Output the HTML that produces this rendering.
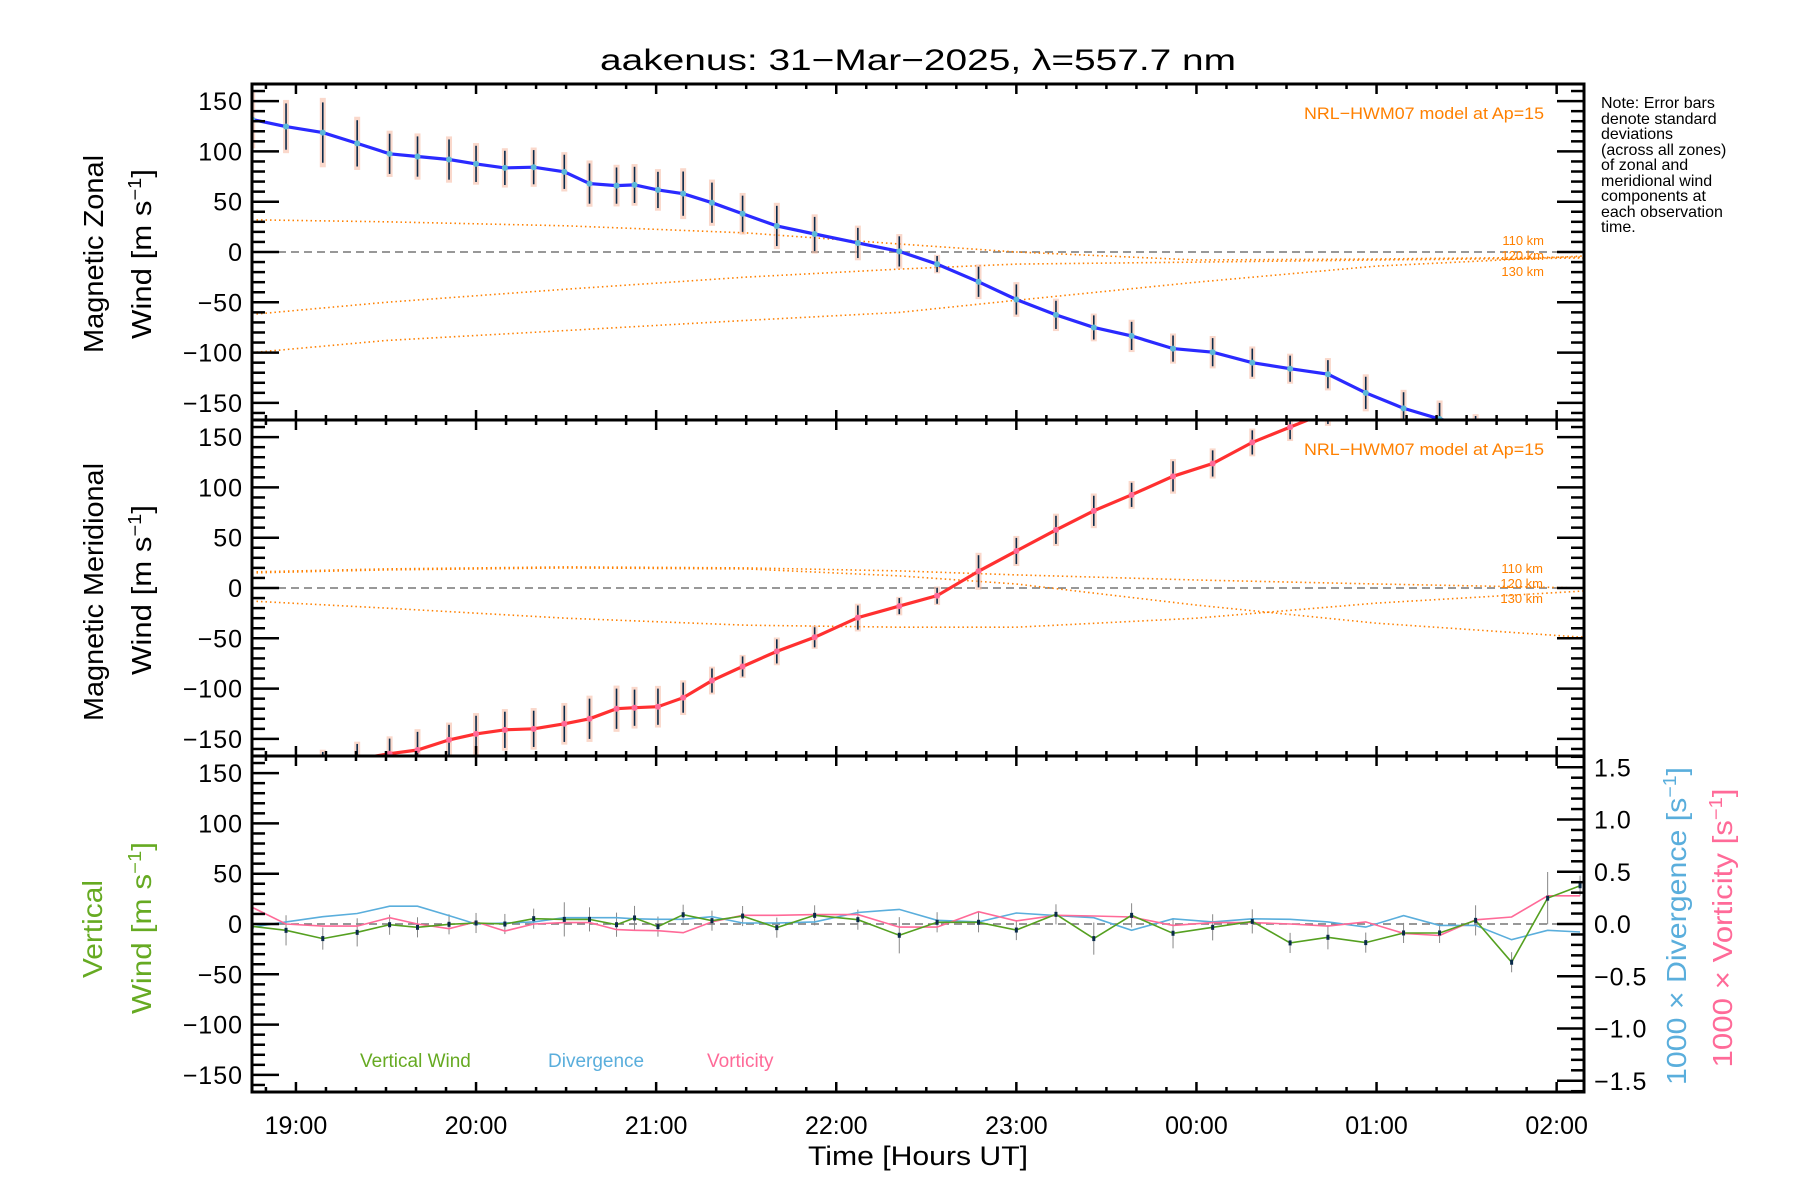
<!DOCTYPE html>
<html><head><meta charset="utf-8"><style>
html,body{margin:0;padding:0;background:#fff;}
svg{display:block;font-family:"Liberation Sans",sans-serif;}
</style></head><body>
<svg id="chart" width="1800" height="1200" viewBox="0 0 1800 1200" xmlns="http://www.w3.org/2000/svg">
<defs>
<clipPath id="c0"><rect x="252" y="84" width="1332" height="336"/></clipPath>
<clipPath id="c1"><rect x="252" y="420" width="1332" height="336"/></clipPath>
<clipPath id="c2"><rect x="252" y="756" width="1332" height="336"/></clipPath>
</defs>
<text x="918" y="70" font-size="30" text-anchor="middle" textLength="636" lengthAdjust="spacingAndGlyphs">aakenus: 31−Mar−2025, λ=557.7 nm</text>
<g id="g0"></g>
<g id="g1"></g>
<g id="g2"></g>
<g id="axes"></g>
<text transform="translate(103,254) rotate(-90)" font-size="28" text-anchor="middle" textLength="198" lengthAdjust="spacingAndGlyphs">Magnetic Zonal</text>
<text transform="translate(151,254) rotate(-90)" font-size="28" text-anchor="middle" textLength="170" lengthAdjust="spacingAndGlyphs">Wind [m s<tspan font-size="18" dy="-10">−1</tspan><tspan dy="10">]</tspan></text>
<text transform="translate(103,592) rotate(-90)" font-size="28" text-anchor="middle" textLength="258" lengthAdjust="spacingAndGlyphs">Magnetic Meridional</text>
<text transform="translate(151,590) rotate(-90)" font-size="28" text-anchor="middle" textLength="170" lengthAdjust="spacingAndGlyphs">Wind [m s<tspan font-size="18" dy="-10">−1</tspan><tspan dy="10">]</tspan></text>
<text transform="translate(102,929) rotate(-90)" font-size="28" fill="#66aa22" text-anchor="middle" textLength="98" lengthAdjust="spacingAndGlyphs">Vertical</text>
<text transform="translate(151,928) rotate(-90)" font-size="28" fill="#66aa22" text-anchor="middle" textLength="172" lengthAdjust="spacingAndGlyphs">Wind [m s<tspan font-size="18" dy="-10">−1</tspan><tspan dy="10">]</tspan></text>
<text transform="translate(1686,926) rotate(-90)" font-size="28" fill="#5aaedc" text-anchor="middle" textLength="318" lengthAdjust="spacingAndGlyphs">1000 × Divergence [s<tspan font-size="18" dy="-10">−1</tspan><tspan dy="10">]</tspan></text>
<text transform="translate(1732,928) rotate(-90)" font-size="28" fill="#ff6a98" text-anchor="middle" textLength="279" lengthAdjust="spacingAndGlyphs">1000 × Vorticity [s<tspan font-size="18" dy="-10">−1</tspan><tspan dy="10">]</tspan></text>
<text x="918" y="1165" font-size="27" text-anchor="middle" textLength="220" lengthAdjust="spacingAndGlyphs">Time [Hours UT]</text>
<g font-size="16">
<text x="1601" y="108">Note: Error bars</text>
<text x="1601" y="124">denote standard</text>
<text x="1601" y="139">deviations</text>
<text x="1601" y="155">(across all zones)</text>
<text x="1601" y="170">of zonal and</text>
<text x="1601" y="186">meridional wind</text>
<text x="1601" y="201">components at</text>
<text x="1601" y="217">each observation</text>
<text x="1601" y="232">time.</text>
</g>
<text x="1544" y="119" font-size="17" fill="#ff8000" text-anchor="end" textLength="240" lengthAdjust="spacingAndGlyphs">NRL−HWM07 model at Ap=15</text>
<text x="1544" y="455" font-size="17" fill="#ff8000" text-anchor="end" textLength="240" lengthAdjust="spacingAndGlyphs">NRL−HWM07 model at Ap=15</text>
<g font-size="13" fill="#ff8000" text-anchor="end">
<text x="1544" y="245">110 km</text><text x="1544" y="260">120 km</text><text x="1544" y="276">130 km</text></g>
<g font-size="13" fill="#ff8000" text-anchor="end">
<text x="1543" y="573">110 km</text><text x="1543" y="588">120 km</text><text x="1543" y="603">130 km</text></g>
<g font-size="19">
<text x="360" y="1067" fill="#66aa22">Vertical Wind</text>
<text x="548" y="1067" fill="#5aaedc">Divergence</text>
<text x="707" y="1067" fill="#ff6a98">Vorticity</text>
</g>
</svg>
<script>
const times=[18.757,18.945,19.149,19.34,19.52,19.675,19.85,20.0,20.16,20.32,20.49,20.63,20.78,20.88,21.01,21.15,21.31,21.48,21.67,21.88,22.12,22.35,22.56,22.79,23.0,23.22,23.43,23.64,23.87,24.09,24.31,24.52,24.73,24.94,25.15,25.35,25.55,25.75,25.95,26.13];
const zonal=[131.7,124.7,118.7,108,97.6,94.9,91.9,87.6,83.6,84.3,79.7,68,66,66.7,61.7,58,49,38,25.9,17.9,9,0.6,-12,-29.6,-47.2,-62.5,-75,-83.4,-96,-99.6,-110,-116,-121.5,-140,-155.4,-166,-175,-185,-195,-205];
const zonalErr=[25,23,30,23,20,20,20,18,17,17,17,20,18,18,18,22,20,18,20,17,15,15,8,15,15,14,12,14,13,14,14,13,14,16,16,16,12,10,10,10];
const meridional=[-195,-188,-178,-170,-164.7,-161,-151,-145,-141,-140,-135,-130,-120,-119,-118,-109,-92,-78,-63,-49,-29.4,-18,-7.7,16.6,36.8,57.8,76.7,92.6,111,123.8,144.7,159.9,175,185,195,200,205,210,215,220];
const meridionalErr=[15,15,15,15,15,18,15,18,18,18,18,20,20,18,18,15,12,10,12,10,12,8,8,16,13,14,15,12,15,13,12,12,12,12,12,12,12,12,12,12];
const vertical=[-2.3,-6.3,-14.5,-8.3,-0.7,-3.3,-0.3,1,0,5.3,4.6,4.6,-0.7,6,-2.6,9.2,3.3,7.9,-3.6,8.6,4.3,-11.2,1.7,1.7,-6,9.6,-14.5,8.6,-9.2,-3.3,2.6,-18.8,-13.2,-18.5,-8.9,-8.9,3.6,-38,25.7,38];
const verticalErr=[10,15,11,14,10,10,10,10,10,10,17,12,12,12,10,10,10,10,10,10,10,18,10,10,10,10,16,12,15,13,12,10,12,10,10,10,15,10,26,10];
const divergence=[-0.03,0.02,0.07,0.10,0.17,0.17,0.08,0,0.01,0.02,0.06,0.06,0.06,0.05,0.045,0.045,0.07,0.01,0.01,0.02,0.11,0.14,0.035,0.02,0.105,0.08,0.06,-0.06,0.05,0.02,0.05,0.045,0.02,-0.03,0.08,-0.013,-0.013,-0.15,-0.06,-0.077];
const vorticity=[0.16,0,-0.02,-0.02,0.06,0,-0.045,0.02,-0.067,0,0.013,0.013,-0.054,-0.06,-0.064,-0.083,0.02,0.083,0.083,0.09,0.09,-0.03,-0.03,0.118,0.03,0.083,0.077,0.067,-0.013,0.013,0.013,0,-0.02,0.02,-0.09,-0.11,0.04,0.067,0.27,0.27];
const modelTimes=[18.756,19.5,20.5,21.5,22.35,23,24,25,26.15];
const zonal110=[32,30,26,19,8,0,-8,-7,-5];
const zonal120=[-62,-50,-37,-25,-17,-12,-10,-8,-6];
const zonal130=[-100,-88,-78,-68,-60,-48,-30,-14,-4];
const merid110=[16,19,21,20,17,13,8,4,0];
const merid120=[15,18,20,19,12,4,-17,-35,-49];
const merid130=[-13,-20,-30,-37,-39,-39,-30,-15,-3];
const windTicks=[150,100,50,0,-50,-100,-150];
const rateTicks=[1.5,1.0,0.5,0.0,-0.5,-1.0,-1.5];
const hourTicks=[19,20,21,22,23,24,25,26];
const hourLabels=["19:00","20:00","21:00","22:00","23:00","00:00","01:00","02:00"];

const NS="http://www.w3.org/2000/svg";
const X0=252,X1=1584,T0=18.756,PXH=180.1,TEND=26.152;
const centers=[252,588,924],PX=1.006,RPX=104.5;
function xs(t){return X0+(t-T0)*PXH;}
function ys(p,v){return centers[p]-v*PX;}
function yr(v){return centers[2]-v*RPX;}
function mk(tag,attrs,parent){const e=document.createElementNS(NS,tag);for(const k in attrs)e.setAttribute(k,attrs[k]);parent.appendChild(e);return e;}
function pathOf(xsArr,ysArr){return xsArr.map((x,i)=>(i?'L':'M')+x.toFixed(1)+' '+ysArr[i].toFixed(1)).join(' ');}

const g=[0,1,2].map(i=>document.getElementById('g'+i));
g.forEach((gg,i)=>gg.setAttribute('clip-path','url(#c'+i+')'));

for(let p=0;p<3;p++){
  const l=mk('line',{x1:X0,x2:X1,y1:ys(p,0),y2:ys(p,0),stroke:'#777','stroke-width':1.5,'stroke-dasharray':'8 5'},g[p]);
  
  
}
[[0,zonal110,'model-110km-zonal'],[0,zonal120,'model-120km-zonal'],[0,zonal130,'model-130km-zonal'],[1,merid110,'model-110km-meridional'],[1,merid120,'model-120km-meridional'],[1,merid130,'model-130km-meridional']].forEach(([p,arr,name])=>{
  const e=mk('path',{d:pathOf(modelTimes.map(xs),arr.map(v=>ys(p,v))),fill:'none',stroke:'#ff8000','stroke-width':1.6,'stroke-dasharray':'1.5 3'},g[p]);
  
  
});
function windPanel(p,vals,errs,color,dot,name){
  vals.forEach((v,i)=>{
    const x=xs(times[i]);
    const bg=mk('rect',{x:x-3,y:ys(p,v+errs[i]*1.15),width:6,height:errs[i]*2.3*PX,fill:'#f6b8a0',opacity:0.55},g[p]);
    
    
    const eb=mk('line',{x1:x,x2:x,y1:ys(p,v+errs[i]),y2:ys(p,v-errs[i]),stroke:'#0a2a4a','stroke-width':1.6},g[p]);
    
    
  });
  const ln=mk('path',{d:pathOf(times.map(xs),vals.map(v=>ys(p,v))),fill:'none',stroke:color,'stroke-width':3.2},g[p]);
  
  
  vals.forEach((v,i)=>{
    const c=mk('circle',{cx:xs(times[i]),cy:ys(p,v),r:3,fill:dot},g[p]);
    
    
  });
}
windPanel(0,zonal,zonalErr,'#2a2aff','#5cb8d8','zonal-wind');
windPanel(1,meridional,meridionalErr,'#ff3030','#ff6a98','meridional-wind');
vertical.forEach((v,i)=>{
  const x=xs(times[i]);
  const eb=mk('line',{x1:x,x2:x,y1:ys(2,v+verticalErr[i]),y2:ys(2,v-verticalErr[i]),stroke:'#888','stroke-width':1},g[2]);
  
  
});
const dv=mk('path',{d:pathOf(times.map(xs),divergence.map(yr)),fill:'none',stroke:'#5aaedc','stroke-width':1.6},g[2]);


const vo=mk('path',{d:pathOf(times.map(xs),vorticity.map(yr)),fill:'none',stroke:'#ff6a98','stroke-width':1.6},g[2]);


const vw=mk('path',{d:pathOf(times.map(xs),vertical.map(v=>ys(2,v))),fill:'none',stroke:'#55a020','stroke-width':1.6},g[2]);


vertical.forEach((v,i)=>{
  const c=mk('rect',{x:xs(times[i])-1.5,y:ys(2,v)-2.5,width:3,height:5,fill:'#0a2a4a'},g[2]);
  
  
});

const ax=document.getElementById('axes');
const tops=[84,420,756],bots=[420,756,1092];
for(let p=0;p<3;p++){
  const fr=mk('rect',{x:X0,y:tops[p],width:X1-X0,height:336,fill:'none',stroke:'#000','stroke-width':3},ax);
  
  
  for(let v=-160;v<=160;v+=10){
    const y=ys(p,v);const len=(v%50===0)?27:13;
    mk('line',{x1:X0,x2:X0+len,y1:y,y2:y,stroke:'#000','stroke-width':2.5},ax);
    if(p<2) mk('line',{x1:X1-len,x2:X1,y1:y,y2:y,stroke:'#000','stroke-width':2.5},ax);
  }
  windTicks.forEach(v=>{
    const t=mk('text',{x:X0-9,y:ys(p,v)+9,'font-size':25,'text-anchor':'end','letter-spacing':'1'},ax);
    t.textContent=(v<0?'−':'')+Math.abs(v);
    
    
  });
  for(let m=Math.ceil(T0*6);m/6<=TEND;m++){
    const x=xs(m/6);const len=(m%6===0)?10:5;
    mk('line',{x1:x,x2:x,y1:tops[p],y2:tops[p]+len,stroke:'#000','stroke-width':2.5},ax);
    mk('line',{x1:x,x2:x,y1:bots[p]-len,y2:bots[p],stroke:'#000','stroke-width':2.5},ax);
  }
}
for(let k=-16;k<=16;k++){
  const y=yr(k/10);const len=(k%5===0)?27:13;
  mk('line',{x1:X1-len,x2:X1,y1:y,y2:y,stroke:'#000','stroke-width':2.5},ax);
}
rateTicks.forEach(v=>{
  const t=mk('text',{x:X1+10,y:yr(v)+9,'font-size':25,'letter-spacing':'1'},ax);
  t.textContent=(v<0?'−':'')+Math.abs(v).toFixed(1);
  
  
});
hourTicks.forEach((h,i)=>{
  const t=mk('text',{x:xs(h),y:1134,'font-size':25,'text-anchor':'middle'},ax);
  t.textContent=hourLabels[i];
  
  
});
</script>
</body></html>
